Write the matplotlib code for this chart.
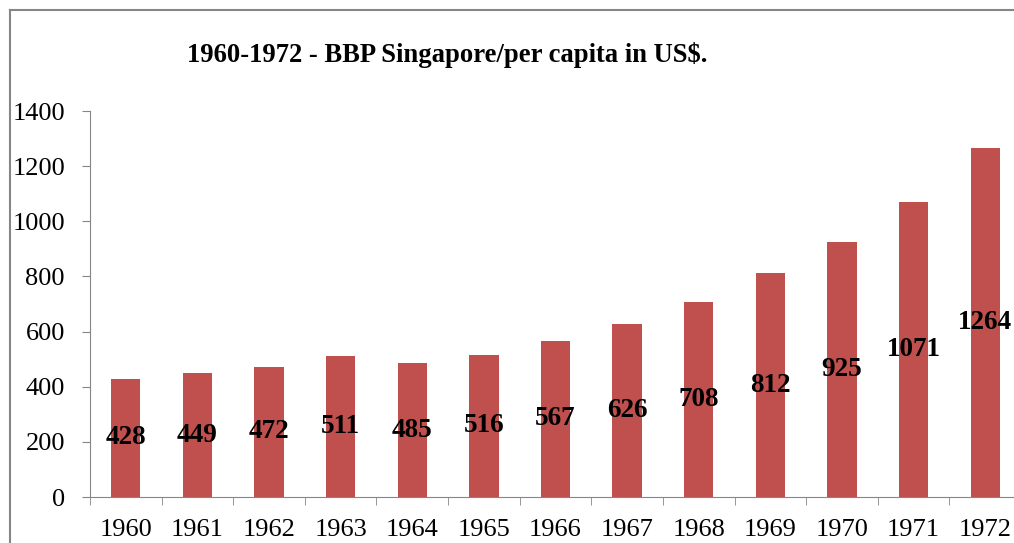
import numpy as np
import matplotlib.pyplot as plt
from matplotlib.lines import Line2D

years = ['1960', '1961', '1962', '1963', '1964', '1965', '1966',
         '1967', '1968', '1969', '1970', '1971', '1972']
gdp = [428, 449, 472, 511, 485, 516, 567, 626, 708, 812, 925, 1071, 1264]

plt.rcParams['font.family'] = ['Liberation Serif', 'DejaVu Serif']

fig = plt.figure(figsize=(10.14, 5.43), dpi=100)
ax = fig.add_axes([90 / 1014, 46 / 543, 931 / 1014, 386 / 543])

x = np.arange(len(years))
bars = ax.bar(x, gdp, width=0.41, color='#C0504D')

# waarden in het midden van de staaf
for xi, v in zip(x, gdp):
    ax.text(xi, v / 2, str(v), ha='center', va='center',
            fontsize=19.5, fontweight='bold', color='black')

ax.set_xlim(-0.5, len(years) - 0.5)
ax.set_ylim(0, 1400)
ax.set_yticks(range(0, 1401, 200))
ax.set_xticks(x)
ax.set_xticklabels(years)
ax.set_xticks(np.arange(-0.5, len(years), 1), minor=True)
ax.tick_params(axis='x', which='major', length=0, labelsize=19, pad=16)
ax.tick_params(axis='x', which='minor', length=6, color='#868686', direction='out')
ax.tick_params(axis='y', length=6, color='#868686', labelsize=19, pad=12)

for s in ['top', 'right']:
    ax.spines[s].set_visible(False)
for s in ['left', 'bottom']:
    ax.spines[s].set_color('#868686')

fig.text(447 / 1014, 1 - 55 / 543, '1960-1972 - BBP Singapore/per capita in US$.',
         ha='center', va='center', fontsize=19.2, fontweight='bold')

# rand van de grafiek
fig.add_artist(Line2D([10 / 1014, 10 / 1014], [0, 1 - 10 / 543],
                      transform=fig.transFigure, color='#868686', lw=1.5))
fig.add_artist(Line2D([10 / 1014, 1], [1 - 10 / 543, 1 - 10 / 543],
                      transform=fig.transFigure, color='#868686', lw=1.5))

fig.savefig('out.png', dpi=100)
